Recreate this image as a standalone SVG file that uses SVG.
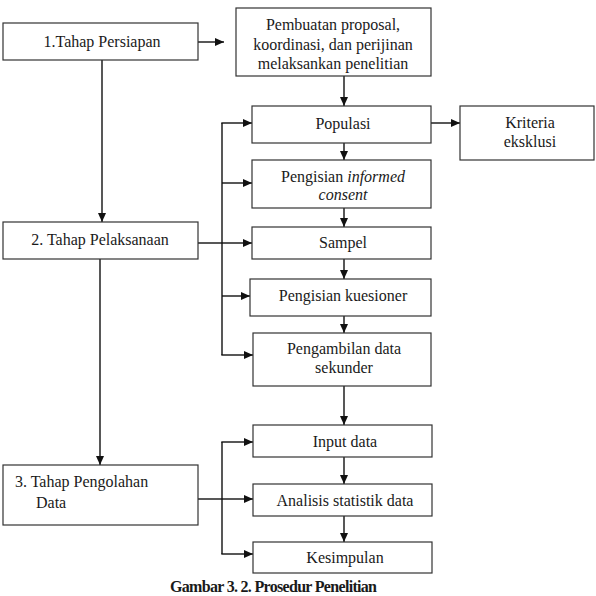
<svg xmlns="http://www.w3.org/2000/svg" width="596" height="596" viewBox="0 0 596 596">
<style>
.box{fill:#fff;stroke:#333;stroke-width:1.2}
.t{font-family:'Liberation Serif','DejaVu Serif',serif;font-size:16px;fill:#1a1a1a}
.c{text-anchor:middle}
.ln{fill:none;stroke:#111;stroke-width:1.4}
</style>
<defs>
<marker id="ah" markerWidth="9" markerHeight="8" refX="9" refY="4" orient="auto" markerUnits="userSpaceOnUse">
<path d="M0,0 L9,4 L0,8 Z" fill="#111"/>
</marker>
</defs>
<rect width="596" height="596" fill="#fff"/>
<g id="connectors">
<line class="ln" x1="198" y1="42" x2="224" y2="42" marker-end="url(#ah)"/>
<line class="ln" x1="344" y1="76" x2="344" y2="106" marker-end="url(#ah)"/>
<line class="ln" x1="431" y1="123" x2="460" y2="123" marker-end="url(#ah)"/>
<line class="ln" x1="344" y1="143" x2="344" y2="160" marker-end="url(#ah)"/>
<line class="ln" x1="344" y1="208" x2="344" y2="227" marker-end="url(#ah)"/>
<line class="ln" x1="344" y1="259" x2="344" y2="279" marker-end="url(#ah)"/>
<line class="ln" x1="344" y1="316" x2="344" y2="333" marker-end="url(#ah)"/>
<line class="ln" x1="344" y1="386" x2="344" y2="425" marker-end="url(#ah)"/>
<line class="ln" x1="344" y1="457" x2="344" y2="484" marker-end="url(#ah)"/>
<line class="ln" x1="344" y1="516" x2="344" y2="542" marker-end="url(#ah)"/>
<line class="ln" x1="102" y1="60" x2="102" y2="222" marker-end="url(#ah)"/>
<line class="ln" x1="100" y1="259" x2="100" y2="465" marker-end="url(#ah)"/>
<line class="ln" x1="198" y1="243" x2="222" y2="243"/>
<line class="ln" x1="222" y1="123" x2="222" y2="355"/>
<line class="ln" x1="221.3" y1="123" x2="252" y2="123" marker-end="url(#ah)"/>
<line class="ln" x1="222" y1="183" x2="252" y2="183" marker-end="url(#ah)"/>
<line class="ln" x1="222" y1="243" x2="252" y2="243" marker-end="url(#ah)"/>
<line class="ln" x1="222" y1="296" x2="250" y2="296" marker-end="url(#ah)"/>
<line class="ln" x1="221.3" y1="355" x2="253" y2="355" marker-end="url(#ah)"/>
<line class="ln" x1="198" y1="499" x2="222" y2="499"/>
<line class="ln" x1="222" y1="442" x2="222" y2="554"/>
<line class="ln" x1="221.3" y1="442" x2="253" y2="442" marker-end="url(#ah)"/>
<line class="ln" x1="222" y1="499" x2="253" y2="499" marker-end="url(#ah)"/>
<line class="ln" x1="221.3" y1="554" x2="253" y2="554" marker-end="url(#ah)"/>
</g>
<g id="persiapan">
<rect class="box" x="3" y="23" width="195" height="37"/>
<text class="t c" x="102" y="47">1.Tahap Persiapan</text>
</g>
<g id="pembuatan">
<rect class="box" x="236" y="8" width="195" height="68"/>
<text class="t c" x="333" y="30">Pembuatan proposal,</text>
<text class="t c" x="333" y="50">koordinasi, dan perijinan</text>
<text class="t c" x="333" y="69">melaksankan penelitian</text>
</g>
<g id="populasi">
<rect class="box" x="252" y="106" width="179" height="37"/>
<text class="t c" x="343" y="129">Populasi</text>
</g>
<g id="kriteria">
<rect class="box" x="460" y="106" width="134" height="54"/>
<text class="t c" x="530" y="128">Kriteria</text>
<text class="t c" x="530" y="147">eksklusi</text>
</g>
<g id="informed">
<rect class="box" x="252" y="160" width="179" height="48"/>
<text class="t c" x="343" y="182">Pengisian <tspan font-style="italic">informed</tspan></text>
<text class="t c" x="343" y="200" font-style="italic">consent</text>
</g>
<g id="sampel">
<rect class="box" x="252" y="227" width="179" height="32"/>
<text class="t c" x="343" y="248">Sampel</text>
</g>
<g id="kuesioner">
<rect class="box" x="250" y="279" width="181" height="37"/>
<text class="t c" x="343" y="301">Pengisian kuesioner</text>
</g>
<g id="pengambilan">
<rect class="box" x="253" y="333" width="178" height="53"/>
<text class="t c" x="344" y="354">Pengambilan data</text>
<text class="t c" x="344" y="373">sekunder</text>
</g>
<g id="pelaksanaan">
<rect class="box" x="3" y="222" width="195" height="37"/>
<text class="t c" x="100" y="245">2. Tahap Pelaksanaan</text>
</g>
<g id="input">
<rect class="box" x="253" y="425" width="179" height="32"/>
<text class="t c" x="345" y="447">Input data</text>
</g>
<g id="analisis">
<rect class="box" x="253" y="484" width="179" height="32"/>
<text class="t c" x="345" y="506">Analisis statistik data</text>
</g>
<g id="kesimpulan">
<rect class="box" x="253" y="542" width="179" height="31"/>
<text class="t c" x="345" y="563">Kesimpulan</text>
</g>
<g id="pengolahan">
<rect class="box" x="3" y="465" width="195" height="60"/>
<text class="t" x="15" y="487">3. Tahap Pengolahan</text>
<text class="t" x="36" y="508">Data</text>
</g>
<text class="t" x="170" y="592" font-size="12" font-weight="bold" textLength="207" lengthAdjust="spacing">Gambar 3. 2. Prosedur Penelitian</text>
</svg>
